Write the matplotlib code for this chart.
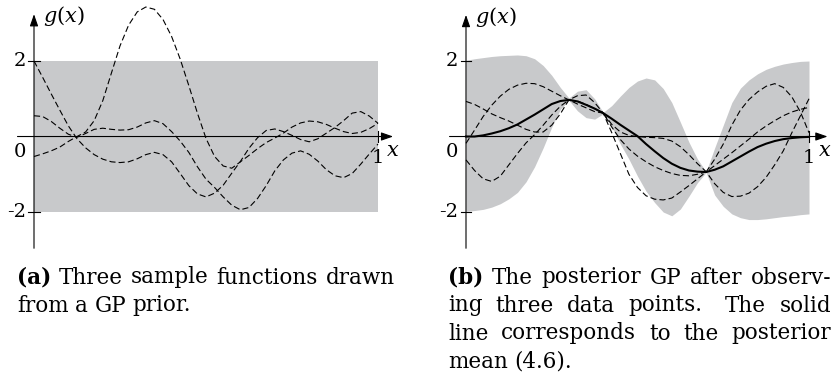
import matplotlib
matplotlib.use('Agg')
import matplotlib.pyplot as plt

plt.rcParams['mathtext.fontset'] = 'dejavuserif'

x_grid = [0.0, 0.025, 0.05, 0.075, 0.1, 0.125, 0.15, 0.175, 0.2, 0.225,
          0.25, 0.275, 0.3, 0.325, 0.35, 0.375, 0.4, 0.425, 0.45, 0.475,
          0.5, 0.525, 0.55, 0.575, 0.6, 0.625, 0.65, 0.675, 0.7, 0.725,
          0.75, 0.775, 0.8, 0.825, 0.85, 0.875, 0.9, 0.925, 0.95, 0.975, 1.0]

# (a) prior: band and three samples
prior_band_x = [0.0, 1.0]
prior_upper = [2.0, 2.0]
prior_lower = [-2.0, -2.0]

prior_s1 = [-0.53, -0.46, -0.38, -0.28, -0.13, 0.0, 0.12, 0.42, 0.95, 1.68,
            2.4, 2.95, 3.3, 3.43, 3.37, 3.1, 2.65, 2.05, 1.35, 0.62,
            -0.05, -0.53, -0.78, -0.84, -0.67, -0.5, -0.32, -0.16, -0.04, 0.09,
            0.25, 0.36, 0.41, 0.39, 0.32, 0.22, 0.13, 0.08, 0.11, 0.21, 0.35]
prior_s2 = [2.0, 1.57, 1.13, 0.7, 0.28, -0.06, -0.3, -0.48, -0.6, -0.67,
            -0.69, -0.67, -0.59, -0.48, -0.42, -0.48, -0.67, -0.98, -1.3, -1.52,
            -1.6, -1.5, -1.29, -0.97, -0.66, -0.31, -0.03, 0.16, 0.2, 0.13,
            0.03, -0.08, -0.14, -0.06, 0.09, 0.24, 0.42, 0.62, 0.66, 0.54, 0.35]
prior_s3 = [0.55, 0.53, 0.4, 0.22, 0.06, -0.02, 0.08, 0.19, 0.22, 0.19,
            0.17, 0.18, 0.25, 0.36, 0.42, 0.34, 0.13, -0.12, -0.42, -0.8,
            -1.13, -1.35, -1.6, -1.82, -1.94, -1.88, -1.64, -1.3, -0.91, -0.62,
            -0.44, -0.38, -0.47, -0.65, -0.88, -1.04, -1.09, -0.98, -0.73, -0.46, -0.2]

# (b) posterior: mean, band edges and three samples
post_mean = [0.0, 0.0, 0.03, 0.08, 0.14, 0.22, 0.32, 0.45, 0.58, 0.72,
             0.86, 0.94, 0.97, 0.93, 0.84, 0.74, 0.62, 0.47, 0.31, 0.16,
             0.01, -0.2, -0.39, -0.57, -0.72, -0.83, -0.9, -0.93, -0.94, -0.88,
             -0.79, -0.66, -0.53, -0.4, -0.28, -0.19, -0.12, -0.07, -0.04, -0.02, -0.01]
post_upper = [2.02, 2.06, 2.09, 2.12, 2.14, 2.15, 2.16, 2.14, 2.06, 1.88,
              1.62, 1.3, 1.02, 1.2, 1.24, 1.0, 0.64, 0.82, 1.07, 1.3,
              1.47, 1.55, 1.5, 1.27, 0.9, 0.38, -0.15, -0.6, -0.93, -0.3,
              0.3, 0.9, 1.28, 1.5, 1.66, 1.78, 1.86, 1.92, 1.96, 1.99, 2.0]
post_lower = [-1.98, -1.96, -1.93, -1.87, -1.78, -1.65, -1.48, -1.2, -0.8, -0.3,
              0.25, 0.72, 0.96, 0.68, 0.5, 0.46, 0.6, 0.25, -0.2, -0.6,
              -1.05, -1.45, -1.75, -2.0, -2.1, -1.92, -1.58, -1.22, -0.95, -1.55,
              -1.85, -2.05, -2.15, -2.2, -2.2, -2.18, -2.15, -2.12, -2.1, -2.07, -2.05]
post_s1 = [0.93, 0.85, 0.73, 0.6, 0.5, 0.41, 0.3, 0.19, 0.12, 0.12,
           0.3, 0.6, 0.97, 1.08, 1.1, 0.9, 0.62, 0.1, -0.45, -1.0,
           -1.35, -1.57, -1.66, -1.68, -1.63, -1.47, -1.3, -1.12, -0.94, -0.6,
           -0.2, 0.3, 0.7, 0.98, 1.18, 1.33, 1.4, 1.3, 1.05, 0.65, 0.1]
post_s2 = [-0.18, 0.17, 0.53, 0.83, 1.07, 1.25, 1.36, 1.41, 1.4, 1.32,
           1.2, 1.08, 0.97, 0.86, 0.76, 0.66, 0.62, 0.25, -0.08, -0.33,
           -0.52, -0.67, -0.8, -0.9, -0.98, -1.03, -1.04, -1.0, -0.94, -0.77,
           -0.6, -0.43, -0.25, -0.07, 0.12, 0.28, 0.42, 0.55, 0.65, 0.72, 0.77]
post_s3 = [-0.62, -0.9, -1.12, -1.19, -1.05, -0.75, -0.45, -0.17, 0.05, 0.3,
           0.57, 0.8, 0.97, 0.94, 0.85, 0.74, 0.62, 0.32, 0.12, 0.03,
           0.0, -0.02, -0.03, -0.05, -0.12, -0.27, -0.48, -0.72, -0.93, -1.25,
           -1.48, -1.59, -1.58, -1.5, -1.33, -1.08, -0.75, -0.38, 0.1, 0.55, 1.0]

ytick_vals = [2, -2]
ytick_labels = ['2', '-2']
xtick_vals = [1]
xtick_labels = ['1']

captions = {
    'a': ['(a) Three sample functions drawn', 'from a GP prior.'],
    'b': ['(b) The posterior GP after observ-', 'ing three data points.  The solid',
          'line corresponds to the posterior', 'mean (4.6).'],
}

W, H = 835, 387
band_color = '#c8c9cb'
serif = 'DejaVu Serif'
dash = (5.5, 2.8)

fig = plt.figure(figsize=(W / 100, H / 100), dpi=100)

# pixel geometry: x=0 px, x=1 px, y=0 px, px per y unit
ax_a = fig.add_axes([-0.4 / W, (H - 261.1) / H, 1.2 * 344 / W, 260.5 / H])
ax_b = fig.add_axes([431.7 / W, (H - 261.1) / H, 1.18 * 343 / W, 260.5 / H])
ax_a.set_xlim(-0.1, 1.1)
ax_b.set_xlim(-0.1, 1.08)


def draw_frame(ax, x_end, y_top, x_lab):
    ax.set_ylim(-3.3, 3.6)
    ax.axis('off')
    arrow = dict(arrowstyle='-|>,head_length=0.4,head_width=0.14', lw=0.8,
                 color='black', shrinkA=0, shrinkB=0, mutation_scale=18)
    ax.annotate('', xy=(x_end, 0), xytext=(-0.048, 0), arrowprops=arrow, zorder=2)
    ax.annotate('', xy=(0, y_top), xytext=(0, -2.96), arrowprops=arrow, zorder=2)
    for v, lab in zip(ytick_vals, ytick_labels):
        ax.plot([-0.016, 0.016], [v, v], color='black', lw=0.8, zorder=2)
        ax.text(-0.023, v, lab, ha='right', va='center', fontsize=14, family=serif)
    for v, lab in zip(xtick_vals, xtick_labels):
        ax.plot([v, v], [-0.14, 0.14], color='black', lw=0.8, zorder=2)
        ax.text(v, -0.58, lab, ha='center', va='center', fontsize=14, family=serif)
    ax.text(-0.023, -0.4, '0', ha='right', va='center', fontsize=14, family=serif)
    ax.text(x_lab, -0.36, r'$x$', ha='center', va='center', fontsize=15)
    ax.text(0.026, y_top - 0.05, r'$g(x)$', ha='left', va='center', fontsize=15)


# (a)
ax_a.fill_between(prior_band_x, prior_lower, prior_upper, color=band_color, lw=0, zorder=1)
draw_frame(ax_a, 1.044, 3.24, 1.044)
for s in [prior_s1, prior_s2, prior_s3]:
    ax_a.plot(x_grid, s, color='black', lw=0.8, dashes=dash, zorder=3)

# (b)
ax_b.fill_between(x_grid, post_lower, post_upper, color=band_color, lw=0, zorder=1)
draw_frame(ax_b, 1.054, 3.22, 1.046)
for s in [post_s1, post_s2, post_s3]:
    ax_b.plot(x_grid, s, color='black', lw=0.8, dashes=dash, zorder=3)
ax_b.plot(x_grid, post_mean, color='black', lw=1.5, zorder=4)

# captions, justified like the book text
renderer = fig.canvas.get_renderer()
cap_size = 15.5


def put_line(line, x0, x1, base, justify):
    words = line.split()
    texts = []
    for i, w in enumerate(words):
        bold = i == 0 and w.startswith('(') and len(w) == 3
        t = fig.text(0, 1 - base / H, w, fontsize=cap_size, family=serif,
                     weight='bold' if bold else 'normal', ha='left', va='baseline')
        texts.append(t)
    widths = [t.get_window_extent(renderer).width for t in texts]
    # a full stop inside a line gets a wider space
    units = [1.7 if w.endswith('.') else 1.0 for w in words[:-1]]
    gap = cap_size * 100 / 72 * 0.3
    if justify and len(texts) > 1:
        gap = (x1 - x0 - sum(widths)) / sum(units)
    x = x0
    for i, (t, wd) in enumerate(zip(texts, widths)):
        t.set_x(x / W)
        if i < len(units):
            x += wd + gap * units[i]


for key, x0, x1 in [('a', 17, 395), ('b', 448, 831)]:
    lines = captions[key]
    for i, line in enumerate(lines):
        put_line(line, x0, x1, 283.5 + 28 * i, i < len(lines) - 1)

fig.savefig('out.png', dpi=100)
